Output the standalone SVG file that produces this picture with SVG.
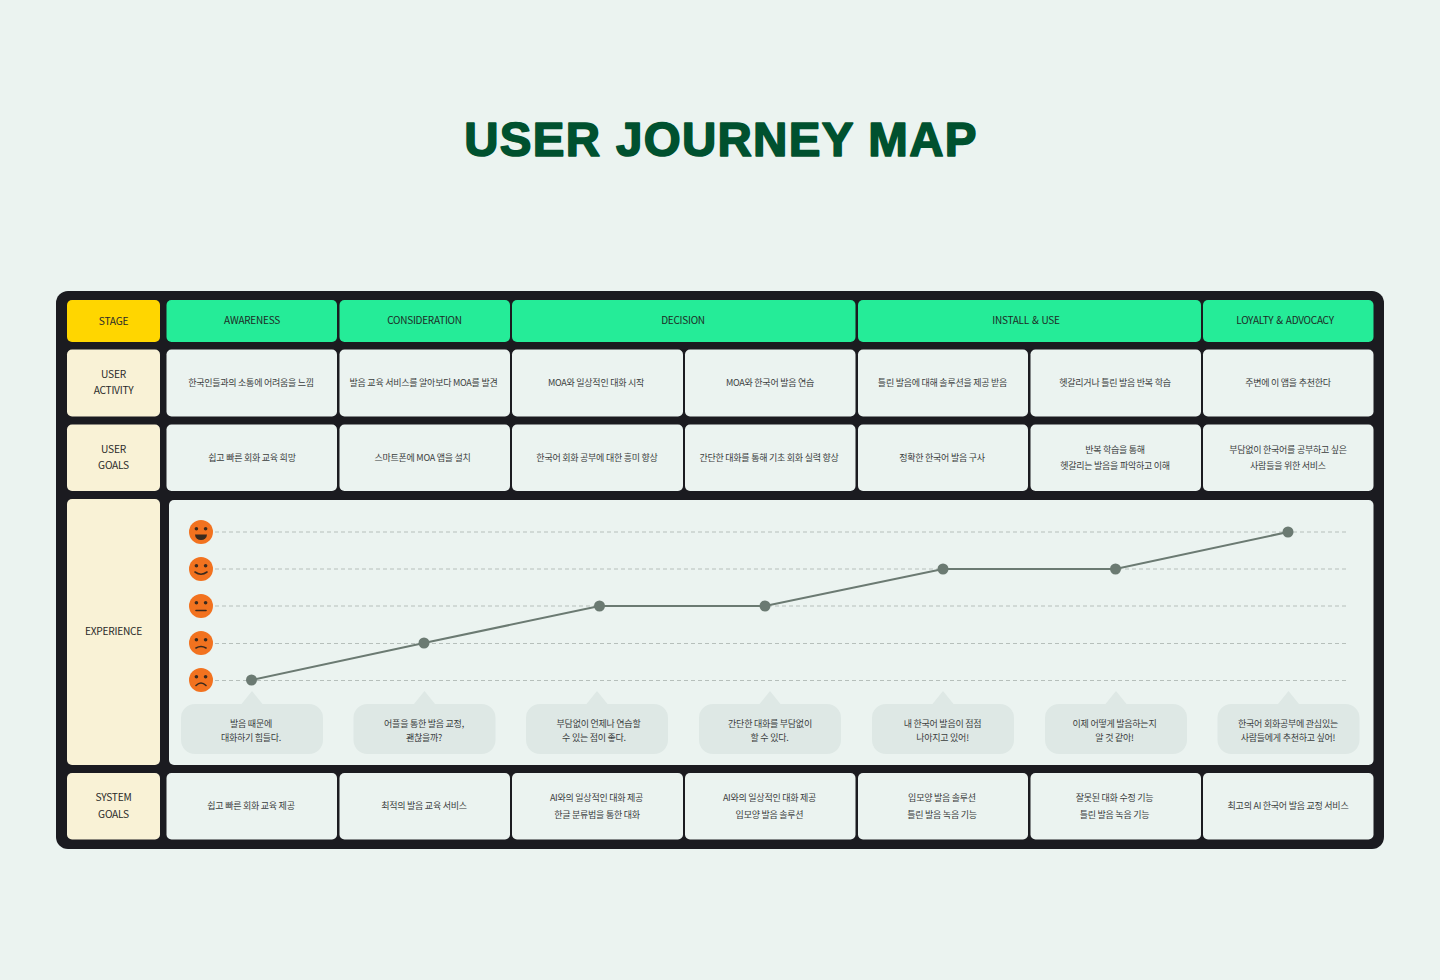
<svg xmlns="http://www.w3.org/2000/svg" width="1440" height="980" viewBox="0 0 1440 980">
<style>
text{font-family:"Noto Sans CJK KR","Noto Sans",sans-serif;text-anchor:middle;fill:#3a3d3d;font-size:9px;letter-spacing:-0.25px}
.h{fill:#1d2b26;font-size:10px;word-spacing:1px}
.l{fill:#2a2a2a;font-size:10.2px}
.title{font-family:"Liberation Sans",Arial,sans-serif;font-weight:700;font-size:47.500px;letter-spacing:1.3px;fill:#00512f;stroke:#00512f;stroke-width:1.6px;stroke-linejoin:round}
.y{fill:#ffd600}.g{fill:#25ec98}.c{fill:#f9f2d6}.w{fill:#ebf3f0}.b{fill:#dee8e5}
.d{stroke:#b6bfbb;stroke-width:1;stroke-dasharray:4 3;fill:none}
.f{fill:#f2721f}.e{fill:#3a2a1e}.m{fill:none;stroke:#3a2a1e;stroke-width:1.6;stroke-linecap:round}
.p{fill:#6b7a72}
</style>
<defs>
<g id="eyes"><circle class="f" r="12"/><circle class="e" cx="-4.600" cy="-3.200" r="1.800"/><circle class="e" cx="4.600" cy="-3.200" r="1.800"/></g>
<path id="bub" d="M-57,13H-10.500L0,0L10.500,13H57A14,14 0 0 1 71,27V49A14,14 0 0 1 57,63H-57A14,14 0 0 1 -71,49V27A14,14 0 0 1 -57,13Z" class="b"/>
</defs>
<rect width="1440" height="980" fill="#ebf3f0"/>
<text id="title" class="title" x="721" y="155.500">USER JOURNEY MAP</text>
<rect id="frame" x="56" y="291" width="1328" height="558" rx="12" fill="#1b1b20"/>

<g id="stage-label"><rect class="y" x="67" y="300" width="93" height="42" rx="5"/><text class="l" x="113.500" y="324.500">STAGE</text></g>
<g id="stage-awareness"><rect class="g" x="166.500" y="300" width="170.500" height="42" rx="5"/><text class="h" x="252" y="324">AWARENESS</text></g>
<g id="stage-consideration"><rect class="g" x="339.500" y="300" width="170.500" height="42" rx="5"/><text class="h" x="424.500" y="324">CONSIDERATION</text></g>
<g id="stage-decision"><rect class="g" x="512" y="300" width="343.500" height="42" rx="5"/><text class="h" x="683" y="324">DECISION</text></g>
<g id="stage-install"><rect class="g" x="858" y="300" width="343" height="42" rx="5"/><text class="h" x="1026" y="324">INSTALL &amp; USE</text></g>
<g id="stage-loyalty"><rect class="g" x="1203" y="300" width="170.500" height="42" rx="5"/><text class="h" x="1285" y="324">LOYALTY &amp; ADVOCACY</text></g>

<g id="label-activity"><rect class="c" x="67" y="349.500" width="93" height="67" rx="5"/><text class="l" x="113.500" y="377.500">USER</text><text class="l" x="113.500" y="394">ACTIVITY</text></g>
<g id="a1"><rect class="w" x="166.500" y="349.500" width="170.500" height="67" rx="5"/><text x="251" y="386">한국인들과의 소통에 어려움을 느낌</text></g>
<g id="a2"><rect class="w" x="339.500" y="349.500" width="170.500" height="67" rx="5"/><text x="423.500" y="386">발음 교육 서비스를 알아보다 MOA를 발견</text></g>
<g id="a3"><rect class="w" x="512" y="349.500" width="171" height="67" rx="5"/><text x="596" y="386">MOA와 일상적인 대화 시작</text></g>
<g id="a4"><rect class="w" x="685" y="349.500" width="170.500" height="67" rx="5"/><text x="770" y="386">MOA와 한국어 발음 연습</text></g>
<g id="a5"><rect class="w" x="858" y="349.500" width="170" height="67" rx="5"/><text x="942.500" y="386">틀린 발음에 대해 솔루션을 제공 받음</text></g>
<g id="a6"><rect class="w" x="1030.500" y="349.500" width="170.500" height="67" rx="5"/><text x="1115" y="386">헷갈리거나 틀린 발음 반복 학습</text></g>
<g id="a7"><rect class="w" x="1203" y="349.500" width="170.500" height="67" rx="5"/><text x="1288" y="386">주변에 이 앱을 추천한다</text></g>

<g id="label-goals"><rect class="c" x="67" y="424.500" width="93" height="66.500" rx="5"/><text class="l" x="113.500" y="452.500">USER</text><text class="l" x="113.500" y="469">GOALS</text></g>
<g id="g1"><rect class="w" x="166.500" y="424.500" width="170.500" height="66.500" rx="5"/><text x="252" y="461">쉽고 빠른 회화 교육 희망</text></g>
<g id="g2"><rect class="w" x="339.500" y="424.500" width="170.500" height="66.500" rx="5"/><text x="422.500" y="461">스마트폰에 MOA 앱을 설치</text></g>
<g id="g3"><rect class="w" x="512" y="424.500" width="171" height="66.500" rx="5"/><text x="597" y="461">한국어 회화 공부에 대한 흥미 향상</text></g>
<g id="g4"><rect class="w" x="685" y="424.500" width="170.500" height="66.500" rx="5"/><text x="769" y="461">간단한 대화를 통해 기초 회화 실력 향상</text></g>
<g id="g5"><rect class="w" x="858" y="424.500" width="170" height="66.500" rx="5"/><text x="942" y="461">정확한 한국어 발음 구사</text></g>
<g id="g6"><rect class="w" x="1030.500" y="424.500" width="170.500" height="66.500" rx="5"/><text x="1115" y="452.500">반복 학습을 통해</text><text x="1115" y="469">헷갈리는 발음을 파악하고 이해</text></g>
<g id="g7"><rect class="w" x="1203" y="424.500" width="170.500" height="66.500" rx="5"/><text x="1288" y="452.500">부담없이 한국어를 공부하고 싶은</text><text x="1288" y="469">사람들을 위한 서비스</text></g>

<g id="label-experience"><rect class="c" x="67" y="499" width="93" height="266" rx="5"/><text class="l" x="113.500" y="635">EXPERIENCE</text></g>
<g id="experience-panel"><rect class="w" x="169" y="500" width="1204.500" height="265" rx="5"/></g>

<g id="gridlines">
<line class="d" x1="215" y1="532" x2="1347" y2="532"/>
<line class="d" x1="215" y1="569" x2="1347" y2="569"/>
<line class="d" x1="215" y1="606" x2="1347" y2="606"/>
<line class="d" x1="215" y1="643.500" x2="1347" y2="643.500"/>
<line class="d" x1="215" y1="680.500" x2="1347" y2="680.500"/>
</g>

<g id="face-5"><use href="#eyes" x="201" y="532"/><path d="M195,534.500H207A6,5.500 0 0 1 195,534.500Z" fill="#3a2a1e"/></g>
<g id="face-4"><use href="#eyes" x="201" y="569"/><path class="m" d="M195,572Q201,576.500 207,572"/></g>
<g id="face-3"><use href="#eyes" x="201" y="606"/><path class="m" d="M196,610.500H206"/></g>
<g id="face-2"><use href="#eyes" x="201" y="643"/><path class="m" d="M196,648Q201,645 206,648"/></g>
<g id="face-1"><use href="#eyes" x="201" y="680"/><path class="m" d="M196,685.500Q201,680.500 206,685.500"/></g>

<g id="connectors"><polyline points="251.500,680 424,643 599.500,606 765,606 943,569 1115.500,569 1288,532" fill="none" stroke="#6b7a72" stroke-width="2"/></g>

<g id="p1"><circle class="p" cx="251.500" cy="680" r="5.500"/></g>
<g id="p2"><circle class="p" cx="424" cy="643" r="5.500"/></g>
<g id="p3"><circle class="p" cx="599.500" cy="606" r="5.500"/></g>
<g id="p4"><circle class="p" cx="765" cy="606" r="5.500"/></g>
<g id="p5"><circle class="p" cx="943" cy="569" r="5.500"/></g>
<g id="p6"><circle class="p" cx="1115.500" cy="569" r="5.500"/></g>
<g id="p7"><circle class="p" cx="1288" cy="532" r="5.500"/></g>

<g id="bubble1"><use href="#bub" x="252" y="691"/><text x="251" y="726.500">발음 때문에</text><text x="251" y="740.500">대화하기 힘들다.</text></g>
<g id="bubble2"><use href="#bub" x="424.500" y="691"/><text x="424" y="726.500">어플을 통한 발음 교정,</text><text x="424" y="740.500">괜찮을까?</text></g>
<g id="bubble3"><use href="#bub" x="597" y="691"/><text x="598.500" y="726.500">부담없이 언제나 연습할</text><text x="594" y="740.500">수 있는 점이 좋다.</text></g>
<g id="bubble4"><use href="#bub" x="770" y="691"/><text x="770" y="726.500">간단한 대화를 부담없이</text><text x="769.500" y="740.500">할 수 있다.</text></g>
<g id="bubble5"><use href="#bub" x="943" y="691"/><text x="942.500" y="726.500">내 한국어 발음이 점점</text><text x="942.500" y="740.500">나아지고 있어!</text></g>
<g id="bubble6"><use href="#bub" x="1116" y="691"/><text x="1114.500" y="726.500">이제 어떻게 발음하는지</text><text x="1114.500" y="740.500">알 것 같아!</text></g>
<g id="bubble7"><use href="#bub" x="1288.500" y="691"/><text x="1288" y="726.500">한국어 회화공부에 관심있는</text><text x="1288" y="740.500">사람들에게 추천하고 싶어!</text></g>

<g id="label-system"><rect class="c" x="67" y="773" width="93" height="66.500" rx="5"/><text class="l" x="113.500" y="801">SYSTEM</text><text class="l" x="113.500" y="817.500">GOALS</text></g>
<g id="s1"><rect class="w" x="166.500" y="773" width="170.500" height="66.500" rx="5"/><text x="251" y="809">쉽고 빠른 회화 교육 제공</text></g>
<g id="s2"><rect class="w" x="339.500" y="773" width="170.500" height="66.500" rx="5"/><text x="424" y="809">최적의 발음 교육 서비스</text></g>
<g id="s3"><rect class="w" x="512" y="773" width="171" height="66.500" rx="5"/><text x="596.500" y="801">AI와의 일상적인 대화 제공</text><text x="597" y="817.500">한글 분류법을 통한 대화</text></g>
<g id="s4"><rect class="w" x="685" y="773" width="170.500" height="66.500" rx="5"/><text x="769.500" y="801">AI와의 일상적인 대화 제공</text><text x="769.500" y="817.500">입모양 발음 솔루션</text></g>
<g id="s5"><rect class="w" x="858" y="773" width="170" height="66.500" rx="5"/><text x="942" y="801">입모양 발음 솔루션</text><text x="942" y="817.500">틀린 발음 녹음 기능</text></g>
<g id="s6"><rect class="w" x="1030.500" y="773" width="170.500" height="66.500" rx="5"/><text x="1114.500" y="801">잘못된 대화 수정 기능</text><text x="1114.500" y="817.500">틀린 발음 녹음 기능</text></g>
<g id="s7"><rect class="w" x="1203" y="773" width="170.500" height="66.500" rx="5"/><text x="1288" y="809">최고의 AI 한국어 발음 교정 서비스</text></g>
</svg>
